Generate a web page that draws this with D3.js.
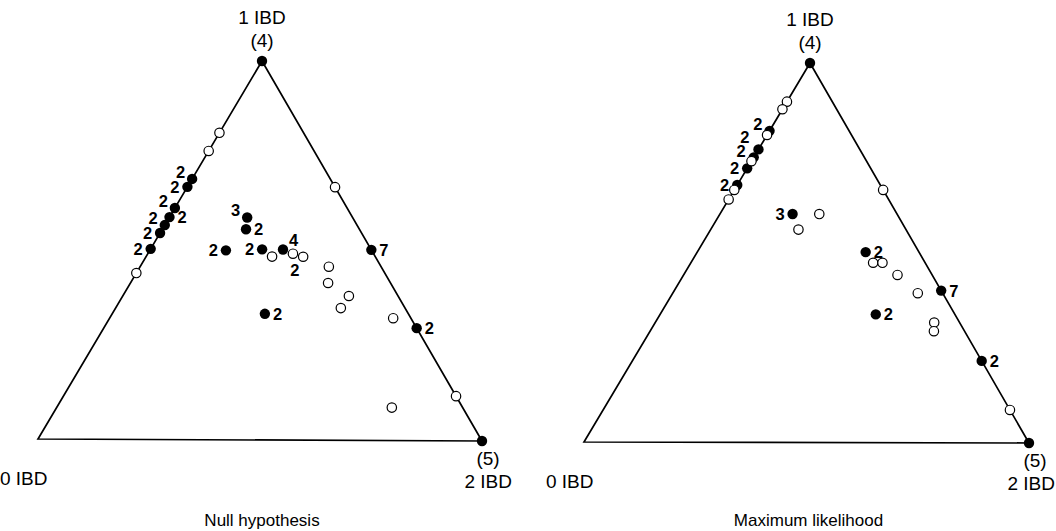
<!DOCTYPE html>
<html>
<head>
<meta charset="utf-8">
<script src="https://cdn.jsdelivr.net/npm/d3@7/dist/d3.min.js"></script>
<style>
  html, body { margin: 0; padding: 0; background: #fff; }
  svg { display: block; }
  text { font-family: "Liberation Sans", Arial, Helvetica, sans-serif; fill: #000; }
</style>
</head>
<body>
<svg id="chart" width="1056" height="531"></svg>
<script>
// ---- Data: IBD sharing probabilities (z1 = P(1 IBD), z2 = P(2 IBD)); z0 = 1 - z1 - z2 ----
const panelTitles = ["Null hypothesis", "Maximum likelihood"];
const vertexNames = ["0 IBD", "1 IBD", "2 IBD"];
const vertexCounts = ["", "(4)", "(5)"];

// Null hypothesis – filled points (with pair counts)
const nullFilledZ1 = [1, 0, 0.688, 0.667, 0.611, 0.587, 0.566, 0.545, 0.503,
                      0.587, 0.556, 0.500, 0.503, 0.503, 0.333, 0.503, 0.297];
const nullFilledZ2 = [0, 1, 0, 0, 0, 0, 0, 0, 0,
                      0.175, 0.188, 0.171, 0.251, 0.298, 0.343, 0.497, 0.703];
const nullFilledCount = ["", "", "2", "2", "2", "2", "2", "2", "2",
                         "3", "2", "2", "2", "4", "2", "7", "2"];
const nullFilledLabelSide = ["", "", "ul", "l", "ul", "r", "ul", "l", "l",
                             "ul", "r", "l", "l", "ur", "r", "r", "r"];
// Null hypothesis – open points
const nullOpenZ1 = [0.810, 0.762, 0.439, 0.668, 0.118,
                    0.484, 0.492, 0.484, 0.458, 0.415, 0.381, 0.349, 0.323, 0.087];
const nullOpenZ2 = [0, 0, 0, 0.332, 0.882,
                    0.283, 0.326, 0.353, 0.424, 0.444, 0.508, 0.506, 0.637, 0.753];
const nullOpenCount = ["", "", "", "", "", "", "2", "", "", "", "", "", "", ""];
const nullOpenLabelSide = ["", "", "", "", "", "", "b", "", "", "", "", "", "", ""];

// Maximum likelihood – filled points
const mlFilledZ1 = [1, 0, 0.821, 0.772, 0.751, 0.722, 0.678,
                    0.602, 0.502, 0.338, 0.401, 0.216];
const mlFilledZ2 = [0, 1, 0, 0, 0, 0, 0,
                    0.163, 0.378, 0.484, 0.599, 0.784];
const mlFilledCount = ["", "", "2", "2", "2", "2", "2", "3", "2", "2", "7", "2"];
const mlFilledLabelSide = ["", "", "ul", "ul2", "lu", "l", "l", "l", "r", "r", "r", "r"];
// Maximum likelihood – open points
const mlOpenZ1 = [0.898, 0.878, 0.810, 0.741, 0.665, 0.640, 0.666, 0.087,
                  0.602, 0.561, 0.474, 0.474, 0.442, 0.394, 0.317, 0.294];
const mlOpenZ2 = [0, 0, 0, 0, 0, 0, 0.334, 0.913,
                  0.223, 0.197, 0.409, 0.430, 0.480, 0.550, 0.626, 0.637];

// ---- Layout ----
const svg = d3.select("#chart");
const panels = [
  { title: panelTitles[0], v0: [38, 439], v1: [262, 61], v2: [482, 441],
    filled: { z1: nullFilledZ1, z2: nullFilledZ2, n: nullFilledCount, side: nullFilledLabelSide },
    open:   { z1: nullOpenZ1, z2: nullOpenZ2, n: nullOpenCount, side: nullOpenLabelSide } },
  { title: panelTitles[1], v0: [584, 442], v1: [810, 63], v2: [1029, 443],
    filled: { z1: mlFilledZ1, z2: mlFilledZ2, n: mlFilledCount, side: mlFilledLabelSide },
    open:   { z1: mlOpenZ1, z2: mlOpenZ2, n: mlOpenZ1.map(() => ""), side: mlOpenZ1.map(() => "") } }
];

const sideOffset = {
  l:   [-8, 6, "end"],
  lu:  [-8, 0, "end"],
  ul:  [-7, -1, "end"],
  ul2: [-9, -6, "end"],
  r:   [8, 6, "start"],
  ur:  [6, -3, "start"],
  b:   [2, 22, "middle"]
};

panels.forEach(p => {
  // affine barycentric projection built from linear scales
  const xz1 = d3.scaleLinear().domain([0, 1]).range([0, p.v1[0] - p.v0[0]]);
  const xz2 = d3.scaleLinear().domain([0, 1]).range([0, p.v2[0] - p.v0[0]]);
  const yz1 = d3.scaleLinear().domain([0, 1]).range([0, p.v1[1] - p.v0[1]]);
  const yz2 = d3.scaleLinear().domain([0, 1]).range([0, p.v2[1] - p.v0[1]]);
  const px = (z1, z2) => p.v0[0] + xz1(z1) + xz2(z2);
  const py = (z1, z2) => p.v0[1] + yz1(z1) + yz2(z2);

  const g = svg.append("g");

  // triangle
  const tri = [[0, 0], [1, 0], [0, 1]].map(([a, b]) => [px(a, b), py(a, b)]);
  g.append("path")
    .attr("d", d3.line()(tri) + "Z")
    .attr("fill", "none")
    .attr("stroke", "#000")
    .attr("stroke-width", 1.7)
    .attr("stroke-linejoin", "miter");

  const toRows = s => s.z1.map((z1, i) => ({ z1, z2: s.z2[i], n: s.n[i], side: s.side[i] }));
  const filled = toRows(p.filled);
  const open = toRows(p.open);

  g.selectAll("circle.f").data(filled).join("circle")
    .attr("class", "f")
    .attr("cx", d => px(d.z1, d.z2))
    .attr("cy", d => py(d.z1, d.z2))
    .attr("r", 5.2)
    .attr("fill", "#000");

  g.selectAll("circle.o").data(open).join("circle")
    .attr("class", "o")
    .attr("cx", d => px(d.z1, d.z2))
    .attr("cy", d => py(d.z1, d.z2))
    .attr("r", 4.7)
    .attr("fill", "#fff")
    .attr("stroke", "#000")
    .attr("stroke-width", 1.2);

  const labelled = filled.concat(open).filter(d => d.n !== "");
  g.selectAll("text.n").data(labelled).join("text")
    .attr("class", "n")
    .attr("x", d => px(d.z1, d.z2) + sideOffset[d.side][0])
    .attr("y", d => py(d.z1, d.z2) + sideOffset[d.side][1])
    .attr("text-anchor", d => sideOffset[d.side][2])
    .attr("font-size", 16.5)
    .attr("font-weight", "bold")
    .text(d => d.n);

  // vertex labels
  const top = [px(1, 0), py(1, 0)];
  g.append("text").attr("x", top[0]).attr("y", top[1] - 37)
    .attr("text-anchor", "middle").attr("font-size", 19).text(vertexNames[1]);
  g.append("text").attr("x", top[0]).attr("y", top[1] - 14)
    .attr("text-anchor", "middle").attr("font-size", 19).text(vertexCounts[1]);

  const bl = [px(0, 0), py(0, 0)];
  g.append("text").attr("x", bl[0] - 38).attr("y", bl[1] + 46)
    .attr("text-anchor", "start").attr("font-size", 19).text(vertexNames[0]);

  const br = [px(0, 1), py(0, 1)];
  g.append("text").attr("x", Math.min(br[0] + 30, 1055)).attr("y", br[1] + 47)
    .attr("text-anchor", "end").attr("font-size", 19).text(vertexNames[2]);
  g.append("text").attr("x", Math.min(br[0] + 6, 1042)).attr("y", br[1] + 24)
    .attr("text-anchor", "middle").attr("font-size", 19).text(vertexCounts[2]);

  // panel title
  g.append("text").attr("x", (bl[0] + br[0]) / 2 + 2).attr("y", 526)
    .attr("text-anchor", "middle").attr("font-size", 17).text(p.title);
});
</script>
</body>
</html>
